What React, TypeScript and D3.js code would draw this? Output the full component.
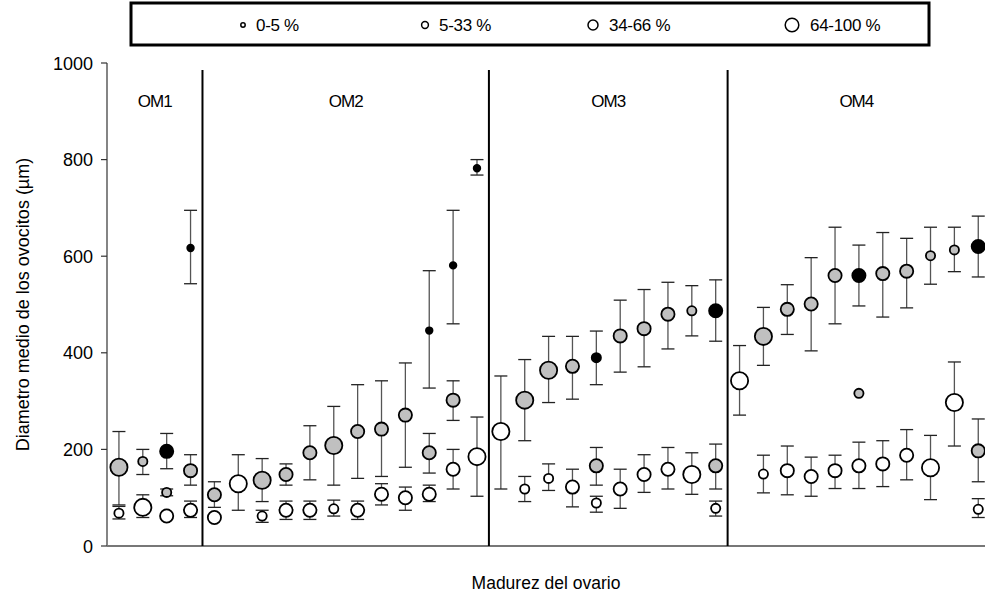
import React from "react";
import * as d3 from "d3";

// ---------- DATA ----------
const categories: number[] = d3.range(37);
const groupLabels = ["OM1", "OM2", "OM3", "OM4"];
const groupStarts = [0, 4, 16, 26]; // first column index of each group
const yTicks = [0, 200, 400, 600, 800, 1000];
const legendLabels = ["0-5 %", "5-33 %", "34-66 %", "64-100 %"];

// white series (mode 1)
const whiteMean = [68, 80, 62, 74, 59, 129, 62, 74, 74, 77, 74, 107, 100, 107, 159, 185, 237, 118, 140, 122, 89, 118, 148, 159, 148, 78, 342, 149, 156, 144, 156, 166, 170, 188, 162, 297, 76];
const whiteLow = [56, 59, 62, 59, 59, 74, 49, 55, 55, 62, 55, 85, 74, 92, 118, 103, 118, 92, 115, 81, 70, 78, 111, 118, 107, 62, 271, 110, 106, 103, 119, 119, 123, 137, 96, 207, 59];
const whiteHigh = [82, 106, 62, 93, 59, 189, 74, 93, 93, 95, 93, 129, 122, 126, 200, 267, 352, 144, 170, 159, 103, 159, 189, 204, 193, 93, 415, 188, 207, 184, 188, 215, 218, 241, 229, 381, 98];
const whiteSize = [1, 3, 2, 2, 2, 3, 1, 2, 2, 1, 2, 2, 2, 2, 2, 3, 3, 1, 1, 2, 1, 2, 2, 2, 3, 1, 3, 1, 2, 2, 2, 2, 2, 2, 3, 3, 1];

// grey series (mode 2)
const greyMean = [163, 175, 111, 156, 106, null, 136, 148, 193, 208, 237, 242, 271, 193, 302, null, null, 302, 364, 372, 166, 435, 450, 480, 487, 166, null, 434, 490, 501, 560, 316, 564, 569, 601, 613, 197];
const greyLow = [85, 148, 104, 126, 80, null, 92, 126, 137, 126, 140, 144, 163, 151, 260, null, null, 218, 297, 304, 126, 360, 371, 408, 435, 118, null, 374, 438, 404, 460, 316, 474, 493, 542, 568, 133];
const greyHigh = [237, 200, 118, 189, 133, null, 181, 170, 249, 289, 334, 342, 379, 233, 342, null, null, 386, 434, 434, 204, 509, 531, 546, 539, 211, null, 494, 541, 597, 660, 316, 649, 637, 660, 660, 263];
const greySize = [3, 1, 1, 2, 2, null, 3, 2, 2, 3, 2, 2, 2, 2, 2, null, null, 3, 3, 2, 2, 2, 2, 2, 1, 2, null, 3, 2, 2, 2, 1, 2, 2, 1, 1, 2];

// black series (mode 3)
const blackIndex = [2, 3, 13, 14, 15, 20, 25, 31, 36];
const blackMean = [196, 617, 446, 581, 782, 390, 487, 560, 620];
const blackLow = [160, 543, 327, 460, 768, 334, 424, 497, 557];
const blackHigh = [233, 695, 570, 695, 800, 445, 551, 623, 683];
const blackSize = [2, 0, 0, 0, 0, 1, 2, 2, 2];

// ---------- LAYOUT ----------
const W = 985;
const H = 598;
const left = 107;
const top = 63;
const bottom = 546;
const radii = [3.3, 4.6, 6.6, 8.6];
const legendRadii = [2.2, 3.4, 5.0, 6.8];
const FONT = "'Liberation Sans', Arial, sans-serif";

type Pt = { i: number; v: number; lo: number; hi: number; s: number; fill: string };

export default function App() {
  const x = d3.scaleBand<number>().domain(categories).range([left, left + 37 * 23.87]);
  const cx = (i: number) => (x(i) as number) + x.bandwidth() / 2;
  const y = d3.scaleLinear().domain([0, 1000]).range([bottom, top]);

  const pts: Pt[] = [];
  categories.forEach((i) => {
    pts.push({ i, v: whiteMean[i], lo: whiteLow[i], hi: whiteHigh[i], s: whiteSize[i], fill: "#ffffff" });
  });
  categories.forEach((i) => {
    if (greyMean[i] != null)
      pts.push({ i, v: greyMean[i] as number, lo: greyLow[i] as number, hi: greyHigh[i] as number, s: greySize[i] as number, fill: "#c0c0c0" });
  });
  blackIndex.forEach((i, k) => {
    pts.push({ i, v: blackMean[k], lo: blackLow[k], hi: blackHigh[k], s: blackSize[k], fill: "#000000" });
  });

  const sepX = groupStarts.slice(1).map((g) => x(g) as number);
  const groupBounds = groupStarts.map((g, k) => {
    const a = k === 0 ? left : (x(g) as number);
    const b = k < groupStarts.length - 1 ? (x(groupStarts[k + 1]) as number) : W;
    return (a + b) / 2;
  });

  const cap = 6.5;
  const legendItems = [
    { cx: 243, tx: 256 },
    { cx: 425, tx: 439 },
    { cx: 593, tx: 609 },
    { cx: 792, tx: 810 },
  ];

  return (
    <svg width={W} height={H} style={{ position: "absolute", left: 0, top: 0, background: "#fff" }} fontFamily={FONT}>
      {/* legend */}
      <rect x={131} y={3} width={798} height={42} fill="#fff" stroke="#000" strokeWidth={3} />
      {legendItems.map((it, k) => (
        <g key={k}>
          <circle cx={it.cx} cy={25} r={legendRadii[k]} fill="#fff" stroke="#000" strokeWidth={1.5} />
          <text x={it.tx} y={31} fontSize={17} letterSpacing={-0.3}>{legendLabels[k]}</text>
        </g>
      ))}

      {/* y axis */}
      <line x1={left} x2={left} y1={top} y2={bottom} stroke="#333" strokeWidth={1.2} />
      {yTicks.map((t) => (
        <g key={t}>
          <line x1={left - 6} x2={left} y1={y(t)} y2={y(t)} stroke="#333" strokeWidth={1.2} />
          <text x={93} y={y(t) + 6.5} fontSize={18} textAnchor="end">{t}</text>
        </g>
      ))}
      {/* x axis */}
      <line x1={left} x2={W} y1={bottom} y2={bottom} stroke="#777" strokeWidth={2} />

      {/* separators */}
      {sepX.map((sx, k) => (
        <line key={k} x1={sx} x2={sx} y1={70} y2={bottom} stroke="#000" strokeWidth={2} />
      ))}
      {groupLabels.map((g, k) => (
        <text key={g} x={groupBounds[k]} y={107} fontSize={17} textAnchor="middle" letterSpacing={-1}>{g}</text>
      ))}

      {/* error bars */}
      {pts.filter((p) => p.hi > p.lo).map((p, k) => (
        <g key={"e" + k}>
          <line x1={cx(p.i)} x2={cx(p.i)} y1={y(p.hi)} y2={y(p.lo)} stroke="#555" strokeWidth={1.3} />
          <line x1={cx(p.i) - cap} x2={cx(p.i) + cap} y1={y(p.hi)} y2={y(p.hi)} stroke="#222" strokeWidth={1.3} />
          <line x1={cx(p.i) - cap} x2={cx(p.i) + cap} y1={y(p.lo)} y2={y(p.lo)} stroke="#222" strokeWidth={1.3} />
        </g>
      ))}

      {/* points */}
      {pts.map((p, k) => (
        <circle key={"c" + k} cx={cx(p.i)} cy={y(p.v)} r={radii[p.s]} fill={p.fill} stroke="#000" strokeWidth={1.8} />
      ))}

      {/* axis titles */}
      <text transform={`translate(29,${(top + bottom) / 2}) rotate(-90)`} fontSize={18} textAnchor="middle">
        Diametro medio de los ovocitos (µm)
      </text>
      <text x={(left + W) / 2} y={589} fontSize={17.5} textAnchor="middle">Madurez del ovario</text>
    </svg>
  );
}
